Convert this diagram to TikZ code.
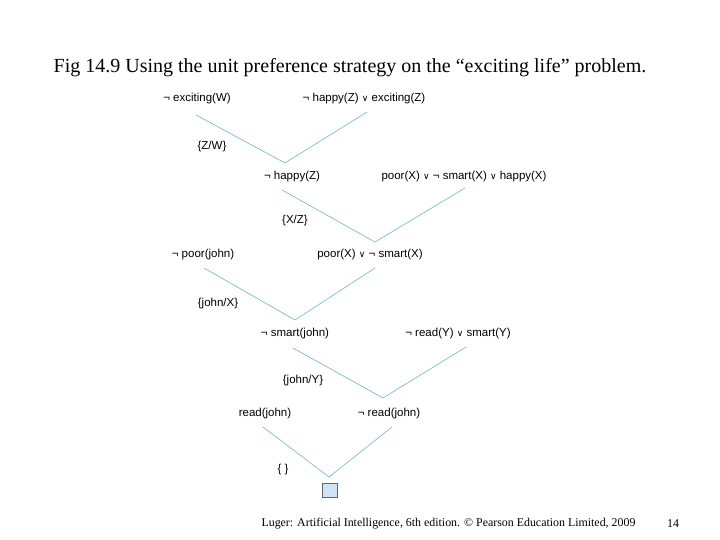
\documentclass[tikz,border=0pt]{standalone}
\usepackage{fontspec}
\setmainfont{Liberation Serif}
\setsansfont{Liberation Sans}
\newfontfamily\dejavu{DejaVu Sans}
\newcommand{\disj}{{\dejavu\small ∨}}
\definecolor{linkblue}{RGB}{110,180,200}
\definecolor{emptyfill}{RGB}{206,228,246}

\begin{document}
\begin{tikzpicture}[x=1pt,y=-1pt]
\tikzstyle{clause}=[font=\sffamily\fontsize{11.5}{13}\selectfont, inner sep=0pt]
\tikzstyle{subst}=[font=\sffamily\fontsize{11.5}{13}\selectfont, inner sep=0pt]
\tikzstyle{link}=[draw=linkblue, line width=0.6pt]
\useasboundingbox (0,0) rectangle (720,540);
% title and footer
\node[font=\fontsize{20}{24}\selectfont] (title) at (350,68) {Fig 14.9 Using the unit preference strategy on the “exciting life” problem.};
\node[font=\fontsize{11.9}{14}\selectfont, anchor=west] (credit) at (258,524) {Luger: Artificial Intelligence, 6th edition. © Pearson Education Limited, 2009};
\node[font=\fontsize{12}{14}\selectfont] (page) at (673,524) {14};
% clauses
\node[clause] (notexc) at (197,99) {¬ exciting(W)};
\node[clause] (happyexc) at (364,99) {¬ happy(Z) \disj{} exciting(Z)};
\node[clause] (nothappy) at (292,177) {¬ happy(Z)};
\node[clause] (poorhappy) at (464,177) {poor(X) \disj{} ¬ smart(X) \disj{} happy(X)};
\node[clause] (notpoor) at (203,255) {¬ poor(john)};
\node[clause] (poorsmart) at (370,255) {poor(X) \disj{} ¬ smart(X)};
\node[clause] (notsmart) at (295,334) {¬ smart(john)};
\node[clause] (readsmart) at (458,334) {¬ read(Y) \disj{} smart(Y)};
\node[clause] (read) at (265,414) {read(john)};
\node[clause] (notread) at (389,414) {¬ read(john)};
\node[draw=black!60, fill=emptyfill, minimum width=15pt, minimum height=14pt, inner sep=0pt] (empty) at (329.5,490) {};
% substitutions
\node[subst] (s1) at (212,147) {\{Z/W\}};
\node[subst] (s2) at (295,221) {\{X/Z\}};
\node[subst] (s3) at (218,304) {\{john/X\}};
\node[subst] (s4) at (303,381) {\{john/Y\}};
\node[subst] (s5) at (283,470) {\{ \}};
% resolution steps
\coordinate (a1) at (196,115); \coordinate (v1) at (285,163); \coordinate (b1) at (367,112);
\coordinate (a2) at (282,190); \coordinate (v2) at (375,242); \coordinate (b2) at (465,188);
\coordinate (a3) at (204,268); \coordinate (v3) at (295,320); \coordinate (b3) at (375,268);
\coordinate (a4) at (293,348); \coordinate (v4) at (383,398); \coordinate (b4) at (466,347);
\coordinate (a5) at (263,427); \coordinate (v5) at (329,477); \coordinate (b5) at (392,427);
\foreach \i in {1,...,5}
  \draw[link] (a\i) -- (v\i) -- (b\i);
\end{tikzpicture}
\end{document}
